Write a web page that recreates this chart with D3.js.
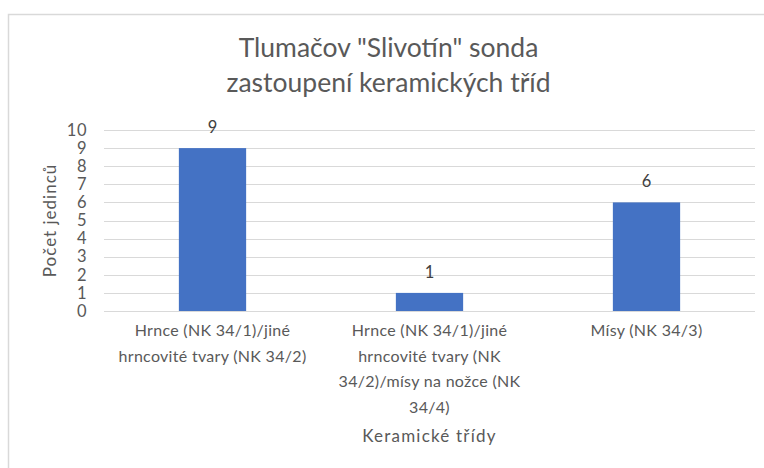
<!DOCTYPE html>
<html>
<head>
<meta charset="utf-8">
<script src="https://cdn.jsdelivr.net/npm/d3@7"></script>
<style>
  body { margin: 0; background: #fff; }
  text { font-family: Lato, "Open Sans", sans-serif; }
</style>
</head>
<body>
<div id="chart"></div>
<script>
const titleLines = ['Tlumačov "Slivotín" sonda', 'zastoupení keramických tříd'];
const categories = [
    'Hrnce (NK 34/1)/jiné hrncovité tvary (NK 34/2)',
    'Hrnce (NK 34/1)/jiné hrncovité tvary (NK 34/2)/mísy na nožce (NK 34/4)',
    'Mísy (NK 34/3)'
];
const counts = [9, 1, 6];
const yTicks = [0, 1, 2, 3, 4, 5, 6, 7, 8, 9, 10];
const yTitle = 'Počet jedinců';
const xTitle = 'Keramické třídy';

const width = 764;
const height = 468;
const margin = { left: 104, right: 9, top: 130, bottom: 157 };

const svg = d3.select('#chart')
    .append('svg')
    .attr('width', width)
    .attr('height', height);

// chart area frame
svg.append('rect')
    .attr('x', 8.5).attr('y', 14.5)
    .attr('width', 800).attr('height', 500)
    .attr('fill', 'none')
    .attr('stroke', '#d9d9d9')
    .attr('stroke-width', 1.5);

const x = d3.scaleBand()
    .domain(categories)
    .range([margin.left, width - margin.right]);

const y = d3.scaleLinear()
    .domain([0, 10])
    .range([height - margin.bottom, margin.top]);

// gridlines
svg.append('g')
    .selectAll('line')
    .data(yTicks)
    .enter()
    .append('line')
    .attr('x1', margin.left)
    .attr('x2', width - margin.right)
    .attr('y1', d => Math.round(y(d)) + 0.5)
    .attr('y2', d => Math.round(y(d)) + 0.5)
    .attr('stroke', '#d9d9d9')
    .attr('stroke-width', 1);

// y axis labels
const yAxis = svg.append('g')
    .attr('transform', 'translate(' + (margin.left - 17) + ',0)')
    .call(d3.axisLeft(y).tickValues(yTicks).tickSize(0).tickPadding(0));
yAxis.select('.domain').remove();
yAxis.selectAll('text')
    .attr('fill', '#595959')
    .attr('font-size', 16.5)
    .attr('font-family', 'Lato, sans-serif')
    .attr('letter-spacing', 0.5);

// bars
const barW = x.bandwidth() * 0.31;
svg.append('g')
    .selectAll('rect')
    .data(counts)
    .enter()
    .append('rect')
    .attr('x', (d, i) => x(categories[i]) + x.bandwidth() / 2 - barW / 2)
    .attr('y', d => y(d))
    .attr('width', barW)
    .attr('height', d => y(0) - y(d))
    .attr('fill', '#4472c4');

// data labels
svg.append('g')
    .selectAll('text')
    .data(counts)
    .enter()
    .append('text')
    .attr('x', (d, i) => x(categories[i]) + x.bandwidth() / 2)
    .attr('y', d => y(d) - 15)
    .attr('text-anchor', 'middle')
    .attr('fill', '#404040')
    .attr('font-size', 16.5)
    .text(d => d);

// category labels, wrapped
function wrapWords(str, maxW, probe) {
    const words = str.split(' ');
    const lines = [];
    let cur = '';
    words.forEach(w => {
        const test = cur ? cur + ' ' + w : w;
        probe.text(test);
        if (cur && probe.node().getComputedTextLength() > maxW) {
            lines.push(cur);
            cur = w;
        } else {
            cur = test;
        }
    });
    if (cur) lines.push(cur);
    return lines;
}

const probe = svg.append('text')
    .attr('font-size', 16)
    .attr('letter-spacing', 0.3)
    .attr('visibility', 'hidden');
const catG = svg.append('g');
categories.forEach(c => {
    const lines = wrapWords(c, 200, probe);
    const t = catG.append('text')
        .attr('text-anchor', 'middle')
        .attr('fill', '#595959')
        .attr('font-size', 16)
        .attr('letter-spacing', 0.3);
    lines.forEach((ln, j) => {
        t.append('tspan')
            .attr('x', x(c) + x.bandwidth() / 2)
            .attr('y', 336 + j * 25.5)
            .text(ln);
    });
});
probe.remove();

// axis titles
svg.append('text')
    .attr('x', (margin.left + width - margin.right) / 2)
    .attr('y', 442)
    .attr('text-anchor', 'middle')
    .attr('fill', '#595959')
    .attr('font-size', 17)
    .attr('letter-spacing', 1.2)
    .text(xTitle);

svg.append('text')
    .attr('transform', 'translate(56,' + ((y(0) + y(10)) / 2) + ') rotate(-90)')
    .attr('text-anchor', 'middle')
    .attr('fill', '#595959')
    .attr('font-size', 17)
    .attr('letter-spacing', 1)
    .text(yTitle);

// title
svg.append('g')
    .selectAll('text')
    .data(titleLines)
    .enter()
    .append('text')
    .attr('x', (margin.left + width - margin.right) / 2 - 41)
    .attr('y', (d, i) => 57 + i * 35)
    .attr('text-anchor', 'middle')
    .attr('fill', '#595959')
    .attr('font-size', 26.5)
    .text(d => d);
</script>
</body>
</html>
